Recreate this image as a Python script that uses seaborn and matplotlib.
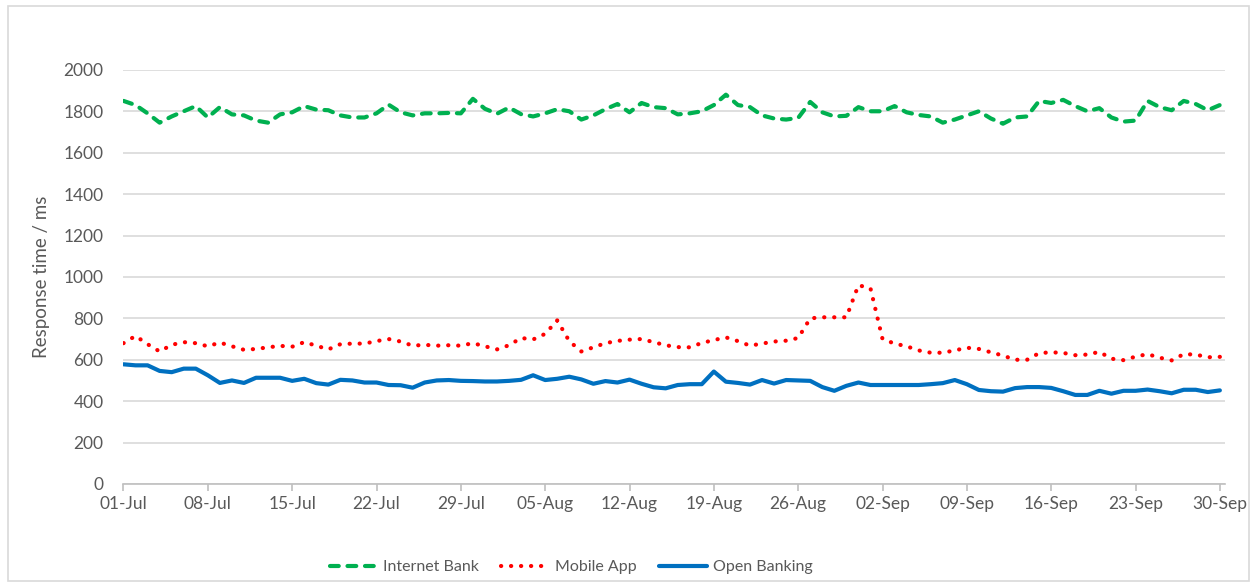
"""
Response time per channel, Jul-Sep
"""

import numpy as np
import pandas as pd
import matplotlib
matplotlib.use("Agg")
import matplotlib.pyplot as plt
import matplotlib.dates as mdates
from matplotlib.patches import Rectangle
import seaborn as sns

# daily values (ms), 01-Jul .. 30-Sep
internet_bank = [1850, 1830, 1790, 1745, 1775, 1800, 1825, 1770, 1820, 1785,
                 1780, 1755, 1745, 1785, 1795, 1825, 1808, 1805, 1780, 1770,
                 1770, 1790, 1832, 1795, 1780, 1790, 1790, 1792, 1790, 1860,
                 1812, 1788, 1818, 1786, 1775, 1790, 1810, 1800, 1760, 1780,
                 1810, 1835, 1795, 1840, 1820, 1815, 1785, 1790, 1800, 1830,
                 1880, 1830, 1820, 1780, 1765, 1760, 1768, 1845, 1795, 1775,
                 1778, 1820, 1800, 1800, 1825, 1795, 1782, 1775, 1745, 1760,
                 1780, 1800, 1765, 1740, 1770, 1775, 1850, 1840, 1855, 1825,
                 1800, 1815, 1770, 1750, 1755, 1850, 1820, 1805, 1850, 1835,
                 1805, 1830]

mobile_app = [680, 715, 675, 640, 672, 685, 680, 665, 683, 665,
              648, 652, 660, 667, 663, 685, 668, 650, 675, 678,
              678, 690, 700, 688, 668, 672, 668, 670, 668, 680,
              665, 650, 670, 705, 698, 725, 790, 690, 640, 660,
              680, 691, 697, 700, 685, 670, 661, 660, 681, 695,
              708, 690, 668, 678, 688, 692, 705, 800, 805, 805,
              805, 960, 945, 700, 678, 665, 645, 634, 634, 645,
              658, 652, 636, 620, 600, 600, 632, 636, 633, 622,
              625, 638, 605, 598, 615, 627, 610, 597, 627, 625,
              612, 614]

open_banking = [578, 573, 573, 546, 540, 557, 557, 525, 488, 500,
                488, 513, 513, 513, 498, 508, 487, 480, 503, 500,
                490, 490, 478, 477, 465, 490, 500, 502, 498, 497,
                495, 495, 498, 503, 525, 502, 508, 518, 505, 484,
                497, 490, 504, 484, 467, 462, 478, 482, 482, 543,
                494, 488, 480, 502, 485, 502, 500, 498, 468, 450,
                474, 490, 478, 478, 478, 478, 478, 482, 487, 502,
                482, 454, 448, 446, 463, 468, 468, 464, 448, 430,
                430, 450, 436, 450, 450, 456, 448, 438, 455, 455,
                444, 452]

dates = pd.date_range("2019-07-01", periods=len(open_banking), freq="D")

sns.set_style("white")
plt.rcParams['font.family'] = ['Lato', 'DejaVu Sans']

grey = '#595959'
fig, ax = plt.subplots(figsize=(12.55, 5.87), dpi=100)
fig.subplots_adjust(left=0.098, right=0.976, top=0.881, bottom=0.1755)

sns.lineplot(x=dates, y=internet_bank, ax=ax, color='#00B050', lw=3,
             linestyle=(0, (2.1, 2.1)), dash_capstyle='round', label='Internet Bank')
sns.lineplot(x=dates, y=mobile_app, ax=ax, color='#FF0000', lw=3,
             linestyle=(0, (0.05, 2.35)), dash_capstyle='round', label='Mobile App')
sns.lineplot(x=dates, y=open_banking, ax=ax, color='#0070C0', lw=3,
             solid_joinstyle='round', label='Open Banking')

ax.set_ylim(0, 2000)
ax.set_yticks(np.arange(0, 2001, 200))
ax.set_xlim(dates[0] - pd.Timedelta(hours=1), dates[-1] + pd.Timedelta(hours=10))
ax.set_xticks(dates[::7])
ax.xaxis.set_major_formatter(mdates.DateFormatter('%d-%b'))

ax.grid(axis='y', color='#D9D9D9', lw=1.2)
ax.set_axisbelow(True)
for s in ['top', 'right', 'left']:
    ax.spines[s].set_visible(False)
ax.spines['bottom'].set_color('#BFBFBF')
ax.spines['bottom'].set_linewidth(1.2)
ax.tick_params(axis='x', colors=grey, labelsize=12.5, length=5, width=1.2,
               direction='out', bottom=True, color='#BFBFBF', pad=4)
ax.tick_params(axis='y', colors=grey, labelsize=12.5, length=0, pad=14)
ax.set_xlabel('')
ax.set_ylabel('Response time / ms', fontsize=13.5, color=grey, labelpad=10)

leg = ax.legend(loc='center', bbox_to_anchor=(0.455, 0.034), bbox_transform=fig.transFigure,
                ncol=3, frameon=False, fontsize=11.5, handlelength=3.0,
                columnspacing=1.4, handletextpad=0.35)
for t in leg.get_texts():
    t.set_color(grey)

fig.patches.append(Rectangle((0.006, 0.01), 0.989, 0.98, transform=fig.transFigure,
                             fill=False, edgecolor='#D9D9D9', lw=1.2))

fig.savefig('out.png', dpi=100)
